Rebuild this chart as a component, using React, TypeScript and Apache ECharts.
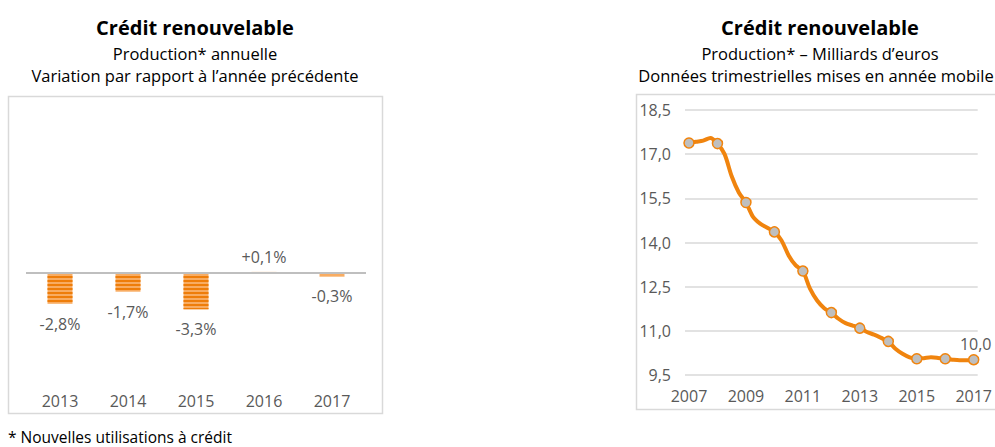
import { useEffect, useRef } from "react";
import * as echarts from "echarts";

// Left chart: annual production, variation vs previous year (%)
const barYears = ["2013", "2014", "2015", "2016", "2017"];
const barValues = [-2.8, -1.7, -3.3, 0.1, -0.3];

// Right chart: quarterly data (rolling year), billions of euros, from 2007 Q1 to 2017 Q1
const lineStartYear = 2007;
const lineValues = [
  17.38, 17.42, 17.46, 17.55,
  17.36, 17.0, 16.25, 15.7,
  15.36, 14.87, 14.64, 14.5,
  14.36, 14.07, 13.56, 13.22,
  13.03, 12.43, 12.03, 11.77,
  11.62, 11.41, 11.26, 11.18,
  11.09, 10.96, 10.87, 10.76,
  10.64, 10.39, 10.22, 10.1,
  10.05, 10.07, 10.1, 10.08,
  10.05, 10.02, 10.0, 10.0,
  10.02,
];
const lineXTicks = [2007, 2009, 2011, 2013, 2015, 2017];

const FONT = "Open Sans";
const GREY_TEXT = "#595959";
const ORANGE = "#F0840E";

const frFmt = (v: number) => v.toFixed(1).replace(".", ",");

export default function App() {
  const ref = useRef<HTMLDivElement>(null);
  useEffect(() => {
    if (!ref.current) return;
    const chart = echarts.init(ref.current, null, { renderer: "svg" });

    const lineData = lineValues.map((v, i) => {
      const item: any = { value: [lineStartYear + i * 0.25, v] };
      if (i % 4 !== 0) item.symbol = "none";
      if (i === lineValues.length - 1) {
        item.label = {
          show: true,
          position: "top",
          distance: 4,
          offset: [2, 2],
          formatter: () => frFmt(v),
          color: GREY_TEXT,
          fontFamily: FONT,
          fontSize: 16,
        };
      }
      return item;
    });

    const barData = barValues.map((v) => ({
      value: v,
      label: { distance: v >= 0 ? 7 : 12 },
    }));

    const titleStyle = { fontFamily: FONT, fontWeight: "bold", fontSize: 20, fill: "#000", align: "center", verticalAlign: "middle" };
    const subStyle = { fontFamily: FONT, fontSize: 16.5, fill: "#000", align: "center", verticalAlign: "middle" };

    const option: any = {
      animation: false,
      backgroundColor: "#ffffff",
      textStyle: { fontFamily: FONT },
      graphic: [
        { type: "rect", shape: { x: 8.5, y: 96.5, width: 374, height: 317 }, style: { fill: "none", stroke: "#D9D9D9", lineWidth: 1.5 }, silent: true },
        { type: "rect", shape: { x: 636.5, y: 94.5, width: 420, height: 315 }, style: { fill: "none", stroke: "#D9D9D9", lineWidth: 1.5 }, silent: true },
        { type: "text", x: 195, y: 27, style: { ...titleStyle, text: "Crédit renouvelable" } },
        { type: "text", x: 195, y: 53, style: { ...subStyle, text: "Production* annuelle" } },
        { type: "text", x: 195, y: 75, style: { ...subStyle, text: "Variation par rapport à l’année précédente" } },
        { type: "text", x: 820, y: 27, style: { ...titleStyle, text: "Crédit renouvelable" } },
        { type: "text", x: 820, y: 53, style: { ...subStyle, text: "Production* – Milliards d’euros" } },
        { type: "text", x: 816, y: 75, style: { ...subStyle, text: "Données trimestrielles mises en année mobile" } },
        { type: "text", x: 8, y: 437, style: { ...subStyle, fontSize: 15.5, align: "left", text: "* Nouvelles utilisations à crédit" } },
      ],
      grid: [
        { left: 26, width: 340, top: 108, height: 275 },
        { left: 685, width: 295, top: 110, height: 265 },
      ],
      xAxis: [
        {
          gridIndex: 0,
          type: "category",
          data: barYears,
          axisLine: { show: false, onZero: false },
          axisTick: { show: false },
          axisLabel: { color: GREY_TEXT, fontFamily: FONT, fontSize: 16, margin: 10 },
        },
        {
          gridIndex: 1,
          type: "value",
          min: 2006.86,
          max: 2017.14,
          splitLine: { show: false },
          axisLine: { show: false },
          axisTick: { show: false },
          axisLabel: {
            customValues: lineXTicks,
            color: GREY_TEXT,
            fontFamily: FONT,
            fontSize: 16,
            margin: 13,
            formatter: (v: number) => String(Math.round(v)),
          },
        },
      ],
      yAxis: [
        {
          gridIndex: 0,
          type: "value",
          min: -10,
          max: 15,
          show: false,
          splitLine: { show: false },
        },
        {
          gridIndex: 1,
          type: "value",
          min: 9.5,
          max: 18.5,
          interval: 1.5,
          axisLine: { show: false },
          axisTick: { show: false },
          splitLine: { show: true, lineStyle: { color: "#D9D9D9", width: 1.5 } },
          axisLabel: { color: GREY_TEXT, fontFamily: FONT, fontSize: 16, margin: 14, formatter: (v: number) => frFmt(v) },
        },
      ],
      series: [
        {
          type: "bar",
          xAxisIndex: 0,
          yAxisIndex: 0,
          data: barData,
          barWidth: 25,
          itemStyle: {
            color: "#F8AC62",
            decal: {
              symbol: "rect",
              symbolSize: 1,
              dashArrayX: [[1, 0]],
              dashArrayY: [1.5, 1.5],
              rotation: 0,
              color: "#EE7D0A",
            },
          },
          label: {
            show: true,
            position: "outside",
            color: GREY_TEXT,
            fontFamily: FONT,
            fontSize: 16,
            formatter: (p: any) => (p.value > 0 ? "+" : "") + frFmt(p.value) + "%",
          },
          markLine: {
            silent: true,
            symbol: "none",
            label: { show: false },
            lineStyle: { color: "#BFBFBF", width: 2, type: "solid" },
            data: [{ yAxis: 0 }],
          },
        },
        {
          type: "line",
          xAxisIndex: 1,
          yAxisIndex: 1,
          data: lineData,
          smooth: 0.3,
          showAllSymbol: true,
          symbol: "circle",
          symbolSize: 10,
          lineStyle: { color: ORANGE, width: 4 },
          itemStyle: { color: "#BFBFBF", borderColor: ORANGE, borderWidth: 1.5 },
        },
      ],
    };

    chart.setOption(option);
    return () => chart.dispose();
  }, []);

  return (
    <div
      ref={ref}
      style={{ position: "fixed", left: 0, top: 0, width: 995, height: 447 }}
    />
  );
}
